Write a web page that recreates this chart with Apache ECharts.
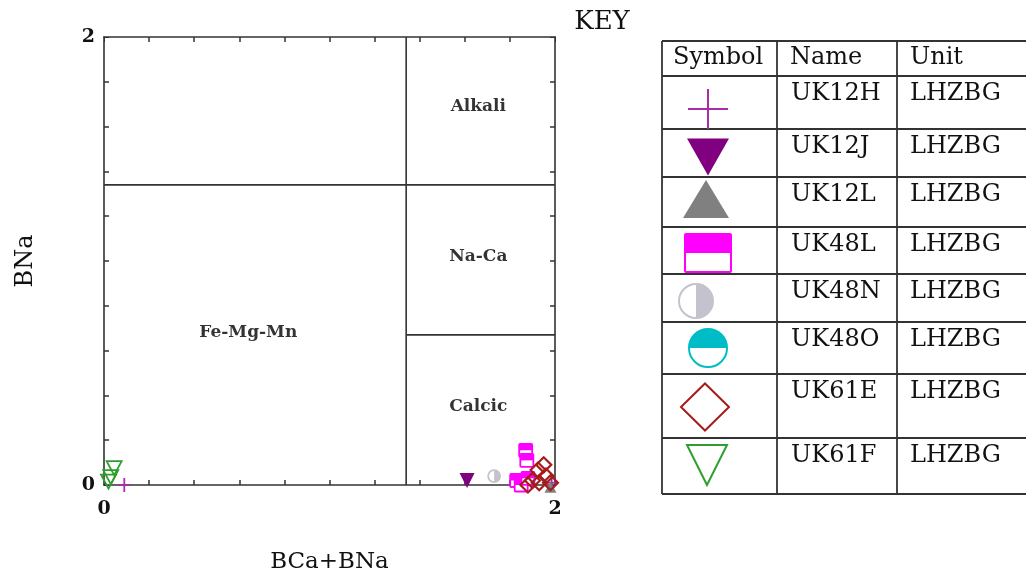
<!DOCTYPE html>
<html>
<head>
<meta charset="utf-8">
<title>Amphibole classification</title>
<script src="https://cdn.jsdelivr.net/npm/echarts@6/dist/echarts.min.js"></script>
<style>
  html, body { margin: 0; padding: 0; background: #fff; }
  #chart { width: 1026px; height: 578px; }
</style>
</head>
<body>
<div id="chart"></div>
<script>
// Sample analyses: [BCa+BNa, BNa]
const uk12h = [[0.09, 0.0], [1.985, 0.01]];
const uk12j = [[1.61, 0.02]];
const uk12l = [[1.98, -0.01]];
const uk48l = [[1.87, 0.155], [1.875, 0.11], [1.83, 0.02], [1.85, 0.0], [1.88, 0.03]];
const uk48n = [[1.73, 0.04]];
const uk48o = [];
const uk61e = [[1.925, 0.067], [1.96, 0.04], [1.98, 0.01], [1.93, 0.01], [1.90, 0.02], [1.95, 0.09], [1.88, 0.0]];
const uk61f = [[0.045, 0.075], [0.03, 0.035], [0.02, 0.015]];

// Key entries
const sampleNames = ['UK12H', 'UK12J', 'UK12L', 'UK48L', 'UK48N', 'UK48O', 'UK61E', 'UK61F'];
const sampleUnits = ['LHZBG', 'LHZBG', 'LHZBG', 'LHZBG', 'LHZBG', 'LHZBG', 'LHZBG', 'LHZBG'];
const sampleData = [uk12h, uk12j, uk12l, uk48l, uk48n, uk48o, uk61e, uk61f];

// Field boundaries (segments in data units) and field names
const boundaries = [
  [[1.34, 0], [1.34, 2]],
  [[0, 1.34], [2, 1.34]],
  [[1.34, 0.67], [2, 0.67]]
];
const fieldLabels = [
  [1.66, 1.69, 'Alkali'],
  [1.66, 1.02, 'Na-Ca'],
  [1.66, 0.35, 'Calcic'],
  [0.64, 0.68, 'Fe-Mg-Mn']
];

// Symbol style for each sample
const symbolKinds = ['plus', 'triDown', 'triUp', 'halfSquare', 'halfCircleR', 'halfCircleT', 'diamond', 'triDownOpen'];
const symbolColors = ['#a82ea8', '#800080', '#808080', '#ff00ff', '#c4c2cc', '#00bcc6', '#a41c1c', '#2f9e2f'];

// Builds the graphic elements of one marker centred on (x, y)
function glyph(kind, x, y, w, h, c, lw) {
  const a = w / 2, b = h / 2;
  switch (kind) {
    case 'plus':
      return [
        { type: 'line', shape: { x1: x - a, y1: y, x2: x + a, y2: y }, style: { stroke: c, lineWidth: lw } },
        { type: 'line', shape: { x1: x, y1: y - b, x2: x, y2: y + b }, style: { stroke: c, lineWidth: lw } }
      ];
    case 'triDown':
      return [{ type: 'polygon', shape: { points: [[x - a, y - b], [x + a, y - b], [x, y + b]] }, style: { fill: c } }];
    case 'triUp':
      return [{ type: 'polygon', shape: { points: [[x - a, y + b], [x + a, y + b], [x, y - b]] }, style: { fill: c } }];
    case 'triDownOpen':
      return [{ type: 'polygon', shape: { points: [[x - a, y - b], [x + a, y - b], [x, y + b]] }, style: { fill: 'none', stroke: c, lineWidth: lw } }];
    case 'diamond':
      return [{ type: 'polygon', shape: { points: [[x - a, y], [x, y - b], [x + a, y], [x, y + b]] }, style: { fill: 'none', stroke: c, lineWidth: lw } }];
    case 'halfSquare':
      return [
        { type: 'rect', shape: { x: x - a, y: y - b, width: w, height: h, r: 1 }, style: { fill: '#fff', stroke: c, lineWidth: lw } },
        { type: 'rect', shape: { x: x - a, y: y - b, width: w, height: h / 2 }, style: { fill: c } }
      ];
    case 'halfCircleR':
      return [
        { type: 'circle', shape: { cx: x, cy: y, r: a }, style: { fill: '#fff', stroke: c, lineWidth: lw } },
        { type: 'sector', shape: { cx: x, cy: y, r0: 0, r: a, startAngle: -Math.PI / 2, endAngle: Math.PI / 2, clockwise: true }, style: { fill: c } }
      ];
    case 'halfCircleT':
      return [
        { type: 'circle', shape: { cx: x, cy: y, r: a }, style: { fill: '#fff', stroke: c, lineWidth: lw } },
        { type: 'sector', shape: { cx: x, cy: y, r0: 0, r: a, startAngle: Math.PI, endAngle: Math.PI * 2, clockwise: true }, style: { fill: c } }
      ];
  }
  return [];
}

const plotSizes = {
  plus: [12, 14], triDown: [15, 15], triUp: [12, 11], triDownOpen: [15, 14],
  diamond: [15, 15], halfSquare: [13, 13], halfCircleR: [12, 12], halfCircleT: [13, 13]
};

const serif = 'DejaVu Serif';
const axisColor = '#333';

function frameAxis(extra) {
  return Object.assign({
    type: 'value', min: 0, max: 2, interval: 2,
    axisLine: { show: true, onZero: false, lineStyle: { color: axisColor, width: 1.6 } },
    axisTick: { show: true, inside: true, length: 5, lineStyle: { color: axisColor } },
    minorTick: { show: true, splitNumber: 10, length: 5, lineStyle: { color: axisColor, width: 1.5 } },
    splitLine: { show: false },
    minorSplitLine: { show: false },
    axisLabel: { show: false }
  }, extra);
}

const tickLabel = { show: true, fontFamily: serif, fontWeight: 'bold', fontSize: 19, color: '#111' };

const series = [];

// Field boundaries
boundaries.forEach(seg => {
  series.push({
    type: 'line', data: seg, symbol: 'none', silent: true,
    lineStyle: { color: axisColor, width: 1.6 }, z: 2
  });
});

// Field names
series.push({
  type: 'scatter', symbolSize: 0, silent: true,
  data: fieldLabels.map(f => ({ value: [f[0], f[1]], name: f[2] })),
  label: {
    show: true, position: 'inside', formatter: p => p.name,
    fontFamily: serif, fontWeight: 'bold', fontSize: 17, color: '#000'
  }
});

// Sample markers
sampleData.forEach((pts, i) => {
  const kind = symbolKinds[i], col = symbolColors[i];
  const sz = plotSizes[kind];
  series.push({
    type: 'custom', name: sampleNames[i], data: pts, clip: false, z: 5,
    renderItem: (params, api) => {
      const p = api.coord([api.value(0), api.value(1)]);
      return { type: 'group', children: glyph(kind, p[0], p[1], sz[0], sz[1], col, kind === 'diamond' ? 2.2 : 1.8) };
    }
  });
});

// Key table
const rowLines = [41, 76, 129, 177, 227, 274, 322, 374, 438, 494];
const colLines = [662, 777, 897];
const keyGlyph = [
  [708, 109, 40, 40], [708, 157, 42, 37], [706, 199, 46, 38], [708, 253, 46, 38],
  [696, 301, 34, 34], [708, 348, 38, 38], [705, 407, 48, 47], [707, 465, 40, 40]
];
const graphic = [];
const tableStroke = { stroke: '#333', lineWidth: 1.8 };
rowLines.forEach(y => graphic.push({ type: 'line', shape: { x1: colLines[0], y1: y, x2: 1030, y2: y }, style: tableStroke }));
colLines.forEach(x => graphic.push({ type: 'line', shape: { x1: x, y1: rowLines[0], x2: x, y2: rowLines[rowLines.length - 1] }, style: tableStroke }));

function cellText(text, x, y) {
  return { type: 'text', x: x, y: y, style: { text: text, fontFamily: serif, fontSize: 24, fill: '#111', align: 'left', verticalAlign: 'middle' } };
}
graphic.push(cellText('Symbol', 673, 58));
graphic.push(cellText('Name', 790, 58));
graphic.push(cellText('Unit', 910, 58));
sampleNames.forEach((n, i) => {
  const yMid = rowLines[i + 1] + 18;
  graphic.push(cellText(n, 791, yMid));
  graphic.push(cellText(sampleUnits[i], 910, yMid));
  const g = keyGlyph[i];
  glyph(symbolKinds[i], g[0], g[1], g[2], g[3], symbolColors[i], 2).forEach(el => graphic.push(el));
});
graphic.push({ type: 'text', x: 602, y: 22, style: { text: 'KEY', fontFamily: serif, fontSize: 26, fill: '#111', align: 'center', verticalAlign: 'middle' } });

const chart = echarts.init(document.getElementById('chart'), null, { renderer: 'canvas' });
chart.setOption({
  animation: false,
  backgroundColor: '#fff',
  grid: { left: 104, right: 471, top: 37, bottom: 93, containLabel: false, outerBoundsMode: 'none' },
  xAxis: [
    frameAxis({
      position: 'bottom',
      axisLabel: Object.assign({ margin: 15 }, tickLabel),
      name: 'BCa+BNa', nameLocation: 'middle', nameGap: 66,
      nameTextStyle: { fontFamily: serif, fontSize: 23, color: '#111' }
    }),
    frameAxis({ position: 'top' })
  ],
  yAxis: [
    frameAxis({
      position: 'left',
      axisLabel: Object.assign({ margin: 9 }, tickLabel),
      name: 'BNa', nameLocation: 'middle', nameGap: 66,
      nameTextStyle: { fontFamily: serif, fontSize: 24, color: '#111' }
    }),
    frameAxis({ position: 'right' })
  ],
  series: series,
  graphic: graphic
});
</script>
</body>
</html>
